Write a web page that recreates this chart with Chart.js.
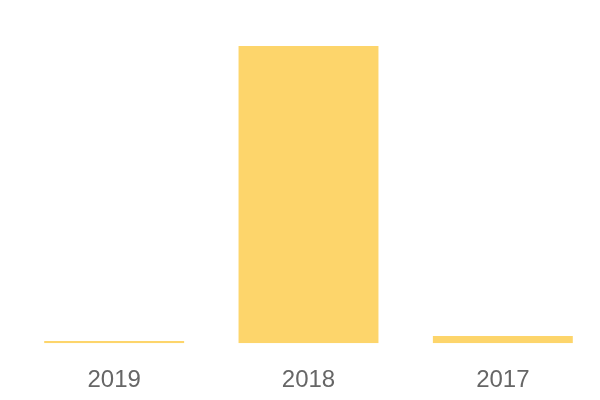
<!DOCTYPE html>
<html>
<head>
<meta charset="utf-8">
<script src="https://cdn.jsdelivr.net/npm/chart.js@4"></script>
<style>
  html,body{margin:0;padding:0;background:#fff;}
  #wrap{width:600px;height:400px;}
</style>
</head>
<body>
<div id="wrap"><canvas id="c"></canvas></div>
<script>
// data
const years = ['2019', '2018', '2017'];
const values = [7, 1000, 24];
const yMax = 1000;

const barColor = '#FDD56B';

new Chart(document.getElementById('c').getContext('2d'), {
  type: 'bar',
  data: {
    labels: years,
    datasets: [{ data: values, backgroundColor: barColor, borderWidth: 0 }]
  },
  options: {
    responsive: true, maintainAspectRatio: false, animation: false,
    layout: { padding: { top: 46, left: 17, right: 0, bottom: -18 } },
    plugins: { legend: { display: false }, tooltip: { enabled: false } },
    scales: {
      x: {
        grid: { display: false, drawTicks: false },
        border: { display: false },
        ticks: { color: '#666', padding: 23, font: { family: 'Liberation Sans', size: 24 } }
      },
      y: { display: false, beginAtZero: true, min: 0, max: yMax }
    }
  }
});
</script>
</body>
</html>
